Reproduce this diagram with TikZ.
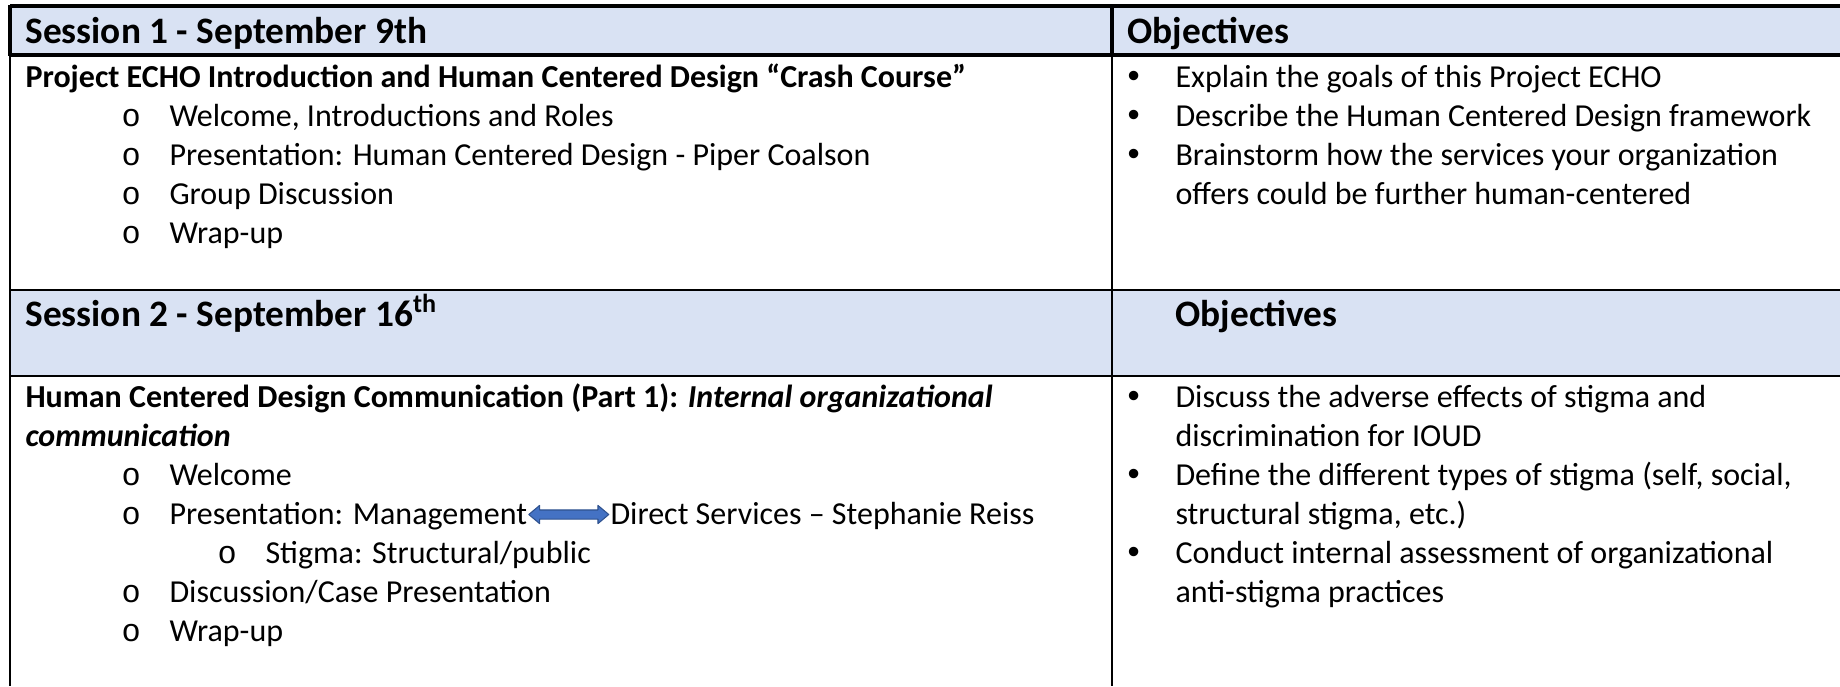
\documentclass[tikz,border=0pt]{standalone}
\usepackage{fontspec}
\setmainfont{Carlito}
\newfontfamily\obfont{Liberation Mono}
\newfontfamily\dotfont{Liberation Sans}
\usetikzlibrary{calc,shapes.arrows}
\definecolor{hdblue}{HTML}{D9E2F3}
\definecolor{arblue}{HTML}{4472C4}
\definecolor{aredge}{HTML}{2F528F}
\begin{document}
\begin{tikzpicture}[x=0.375pt,y=-0.375pt,font=\fontsize{12}{14.6}\selectfont,line join=round,
  tx/.style={anchor=base west,inner sep=0pt},
  hd/.style={tx,font=\fontsize{14}{17}\selectfont\bfseries},
  bd/.style={tx,font=\fontsize{12}{14.6}\selectfont\bfseries},
  ob/.style={tx,font=\fontsize{12}{14.6}\obfont},
  db/.style={tx,font=\fontsize{13}{14.6}\dotfont},
  darr/.style={double arrow,fill=arblue,draw=aredge,line width=0.4pt,inner xsep=0pt,inner ysep=1.5pt,
    minimum height=30pt,minimum width=6.4pt,double arrow head extend=1.7pt,double arrow tip angle=80}]
\useasboundingbox (0,0) rectangle (1840,686);
\fill[hdblue] (10,6) rectangle (1840,55) (10,290) rectangle (1840,376);
\draw[line width=1.3pt] (10,6)--(1840,6) (10,55)--(1840,55) (10,5)--(10,56) (1112,6)--(1112,55);
\draw[line width=0.75pt] (10,55)--(10,686) (1112,55)--(1112,686) (10,290)--(1840,290) (10,376)--(1840,376);
% session 1
\path (25,43) node[hd](s1hd){Session 1 - September 9th} (1127,43) node[hd](s1ob){Objectives};
\path (25,87.5) node[bd](s1ttl){Project ECHO Introduction and Human Centered Design “Crash Course”};
\path (121,126.5) node[ob](s1o1){o} (169,126.5) node[tx](s1i1){Welcome, Introductions and Roles}
  (121,165.5) node[ob](s1o2){o} (169,165.5) node[tx](s1i2){Presentation: Human Centered Design - Piper Coalson}
  (121,204.5) node[ob](s1o3){o} (169,204.5) node[tx](s1i3){Group Discussion}
  (121,243.5) node[ob](s1o4){o} (169,243.5) node[tx](s1i4){Wrap-up};
\path (1127,87.5) node[db](s1d1){•} (1175,87.5) node[tx](s1g1){Explain the goals of this Project ECHO}
  (1127,126.5) node[db](s1d2){•} (1175,126.5) node[tx](s1g2){Describe the Human Centered Design framework}
  (1127,165.5) node[db](s1d3){•} (1175,165.5) node[tx](s1g3){Brainstorm how the services your organization}
  (1175,204.5) node[tx](s1g3b){offers could be further human-centered};
% session 2
\path (25,326.5) node[hd](s2hd){Session 2 - September 16\textsuperscript{th}} (1175,326.5) node[hd](s2ob){Objectives};
\path (25,407.5) node[bd](s2ttl){Human Centered Design Communication (Part 1): \textit{Internal organizational}}
  (25,446.5) node[bd](s2ttlb){\textit{communication}};
\path (121,485.5) node[ob](s2o1){o} (169,485.5) node[tx](s2i1){Welcome}
  (121,524.5) node[ob](s2o2){o} (169,524.5) node[tx](mgmt){Presentation: Management}
  (610,524.5) node[tx](direct){Direct Services – Stephanie Reiss}
  (217,563.5) node[ob](s2o3){o} (265,563.5) node[tx](s2i3){Stigma: Structural/public}
  (121,602.5) node[ob](s2o4){o} (169,602.5) node[tx](s2i4){Discussion/Case Presentation}
  (121,641.5) node[ob](s2o5){o} (169,641.5) node[tx](s2i5){Wrap-up};
\node[darr](mdarr) at ($(mgmt.base east)!0.5!(direct.base west)+(0,-10)$){};
\path (1127,407.5) node[db](s2d1){•} (1175,407.5) node[tx](s2g1){Discuss the adverse effects of stigma and}
  (1175,446.5) node[tx](s2g1b){discrimination for IOUD}
  (1127,485.5) node[db](s2d2){•} (1175,485.5) node[tx](s2g2){Define the different types of stigma (self, social,}
  (1175,524.5) node[tx](s2g2b){structural stigma, etc.)}
  (1127,563.5) node[db](s2d3){•} (1175,563.5) node[tx](s2g3){Conduct internal assessment of organizational}
  (1175,602.5) node[tx](s2g3b){anti-stigma practices};
\end{tikzpicture}
\end{document}
